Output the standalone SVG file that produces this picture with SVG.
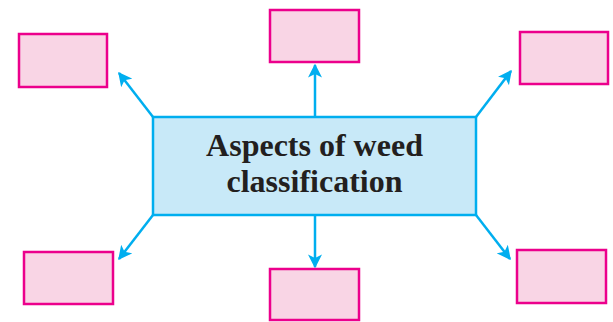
<svg xmlns="http://www.w3.org/2000/svg" width="613" height="322" viewBox="0 0 613 322">
<defs>
<style>
.leaf{fill:#f9d5e5;stroke:#ec008c;stroke-width:2.5}
.core{fill:#c8e9f8;stroke:#00aeef;stroke-width:2.5}
.conn{stroke:#00aeef;stroke-width:2.5;fill:none;marker-end:url(#ah)}
.lbl{font-family:"Liberation Serif","Times New Roman",serif;font-weight:bold;font-size:32px;fill:#231f20;text-anchor:middle}
</style>
<marker id="ah" viewBox="0 0 10 10" refX="9" refY="5" markerWidth="5.6" markerHeight="5.6" orient="auto" markerUnits="strokeWidth">
<path d="M0,0 L10,5 L0,10 L2.5,5 Z" fill="#00aeef"/>
</marker>
</defs>
<rect width="613" height="322" fill="#ffffff"/>
<g id="connectors">
<line class="conn" x1="153" y1="117" x2="119" y2="73"/>
<line class="conn" x1="315" y1="117" x2="315" y2="65"/>
<line class="conn" x1="476" y1="117" x2="511" y2="71"/>
<line class="conn" x1="153" y1="215" x2="119" y2="259"/>
<line class="conn" x1="315" y1="215" x2="315" y2="267"/>
<line class="conn" x1="476" y1="215" x2="510" y2="259"/>
</g>
<g id="center">
<rect class="core" x="153" y="117" width="323" height="98"/>
<text class="lbl" x="314.5" y="156">Aspects of weed</text>
<text class="lbl" x="314.5" y="192">classification</text>
</g>
<g id="box-top-left"><rect class="leaf" x="19" y="34" width="88" height="53"/></g>
<g id="box-top-center"><rect class="leaf" x="270" y="10" width="89" height="52"/></g>
<g id="box-top-right"><rect class="leaf" x="520" y="32" width="88" height="52"/></g>
<g id="box-bottom-left"><rect class="leaf" x="24" y="252" width="89" height="52"/></g>
<g id="box-bottom-center"><rect class="leaf" x="270" y="269" width="89" height="51"/></g>
<g id="box-bottom-right"><rect class="leaf" x="517" y="250" width="89" height="53"/></g>
</svg>
